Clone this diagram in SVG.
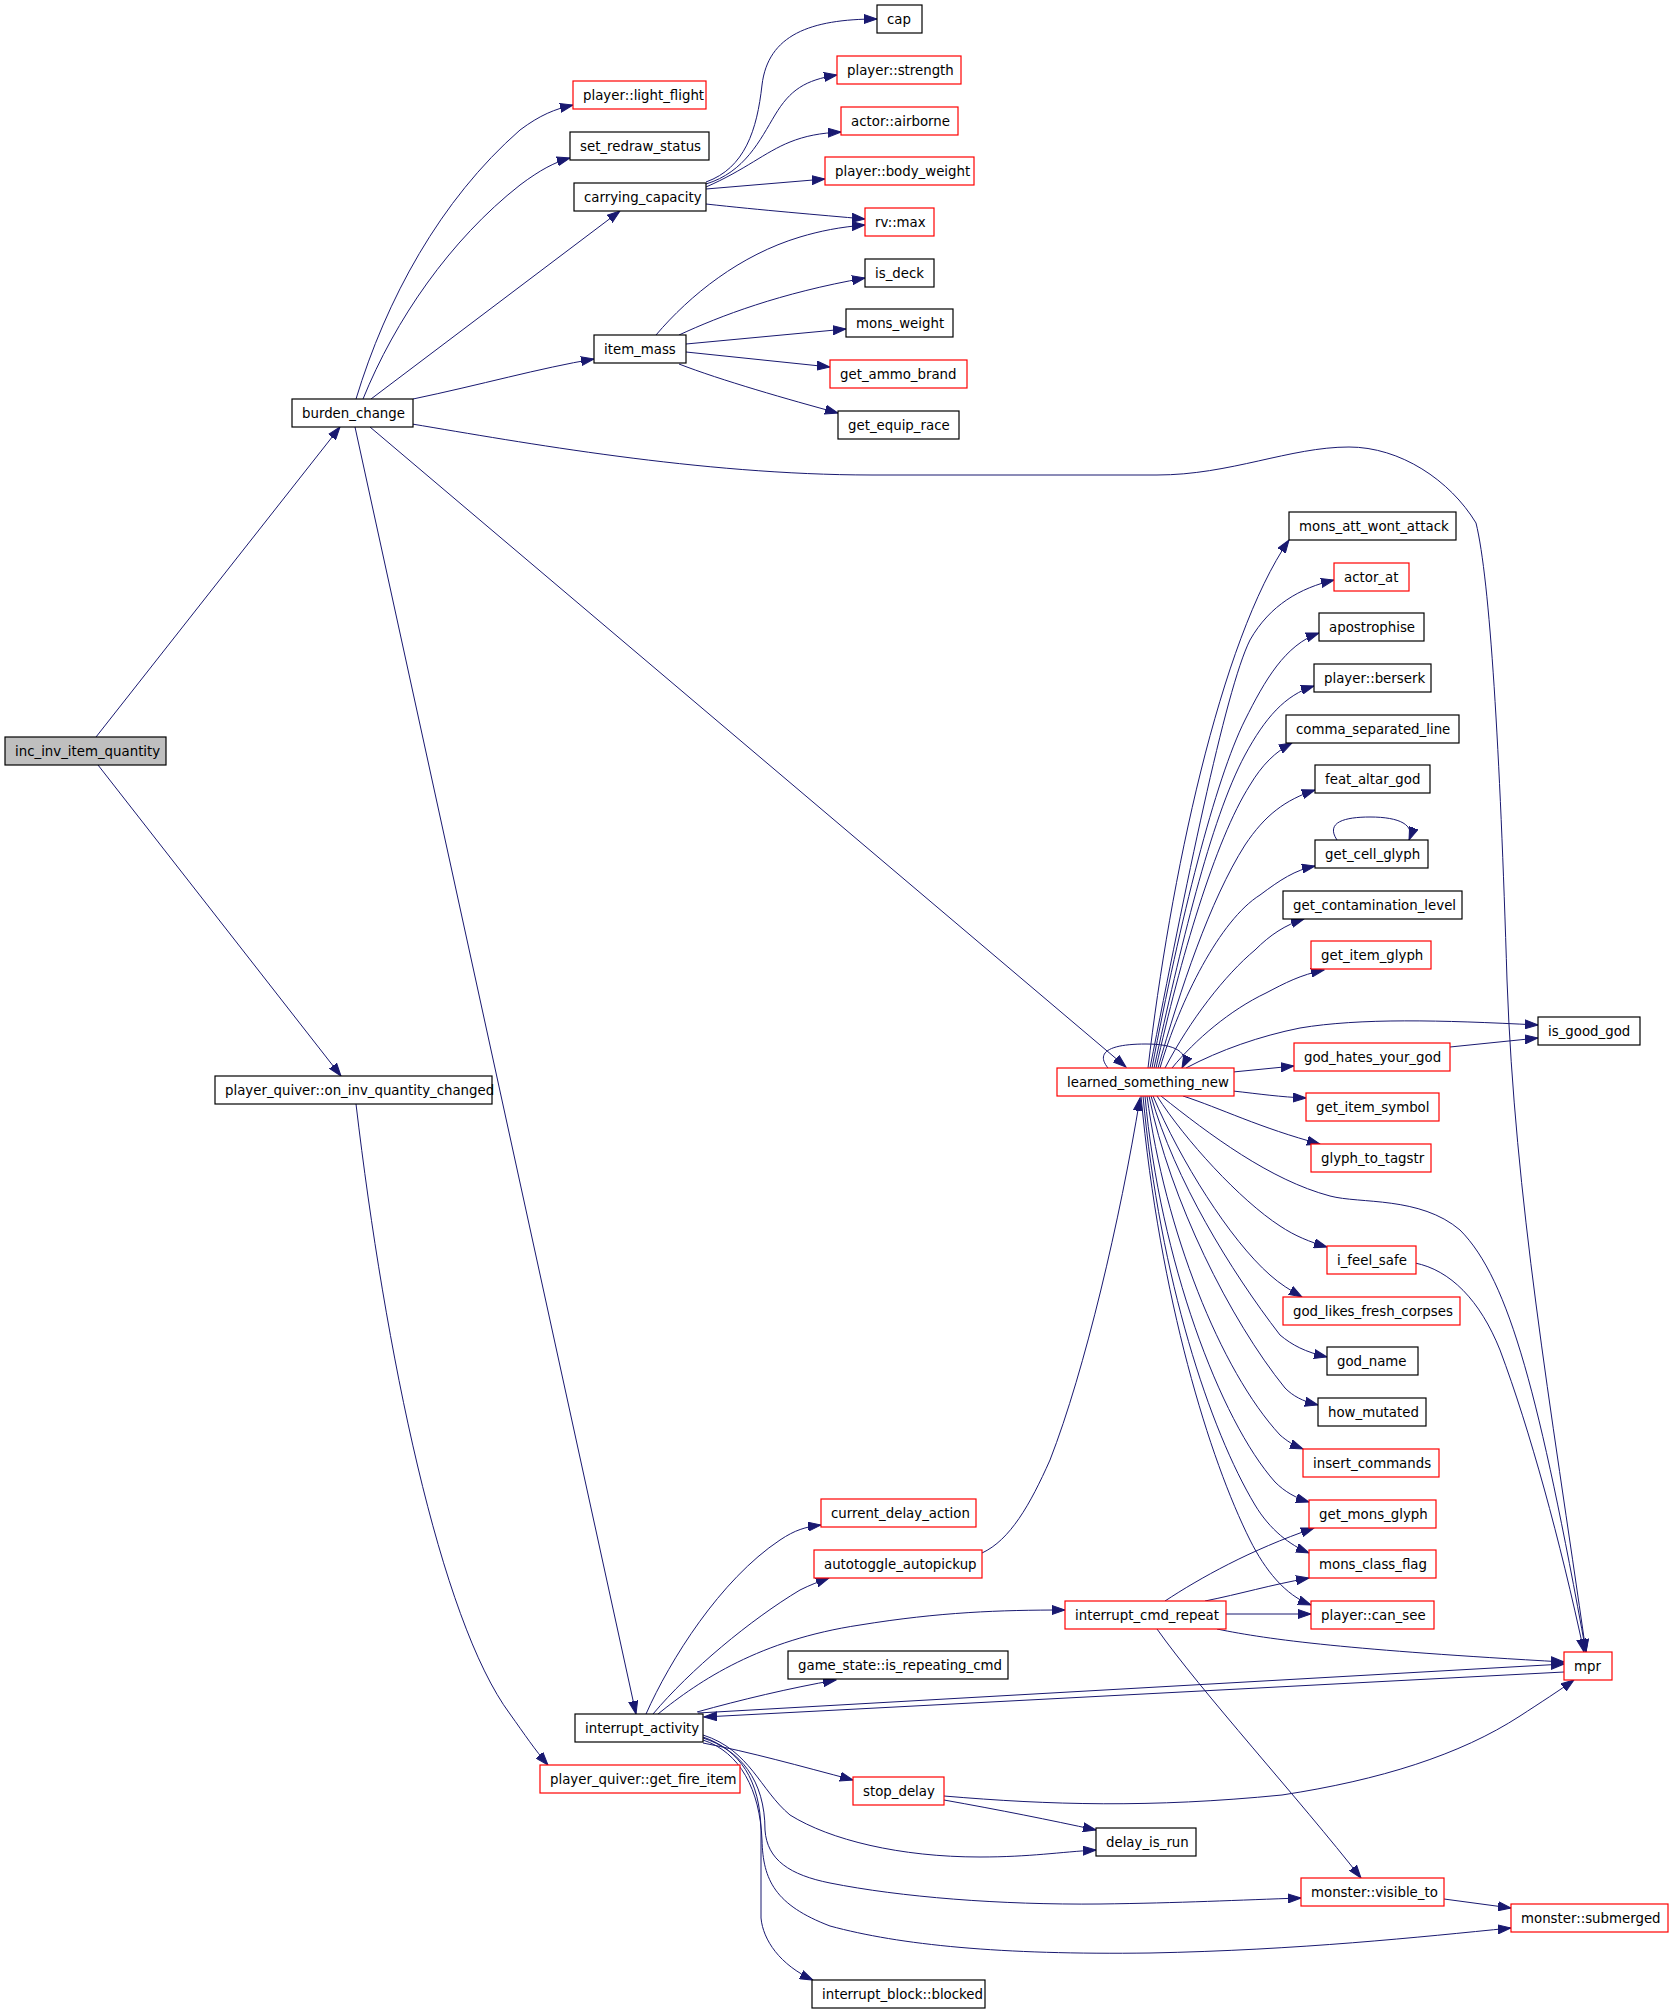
<svg xmlns="http://www.w3.org/2000/svg" width="1669" height="2011" viewBox="0 0 1669 2011">
<style>
.e{fill:none;stroke:#191970;stroke-width:1;marker-end:url(#a)}
.n rect{fill:#ffffff;stroke:#000000;stroke-width:1.2}
.r rect{stroke:#ff0000}
.g rect{fill:#bfbfbf}
text{font-family:"DejaVu Sans","Liberation Sans",sans-serif;font-size:13.33px;fill:#000000}
</style>
<defs>
<marker id="a" markerUnits="userSpaceOnUse" markerWidth="14" markerHeight="10" refX="13" refY="5" orient="auto">
<path d="M0,0.5 L13,5 L0,9.5 Z" fill="#191970" stroke="#191970" stroke-width="1"/>
</marker>
</defs>
<rect x="0" y="0" width="1669" height="2011" fill="#ffffff"/>
<g id="edges">
<path class="e" d="M96,737 L340,427"/>
<path class="e" d="M98,765 L341,1076"/>
<path class="e" d="M356,399 C386,300 440,200 520,130 C540,115 555,109 573,105"/>
<path class="e" d="M363,399 C395,320 450,240 520,185 C540,170 555,162 570,158"/>
<path class="e" d="M371,399 L620,211"/>
<path class="e" d="M413,399 C480,385 540,368 594,359"/>
<path class="e" d="M412,424 C520,442 700,475 872,475 L1157,475 C1230,475 1290,447 1349,447 C1400,447 1450,480 1476,523 C1490,580 1500,750 1507,980 C1515,1200 1550,1400 1586,1652"/>
<path class="e" d="M370,427 L1126,1067"/>
<path class="e" d="M355,427 L636,1714"/>
<path class="e" d="M356,1104 C385,1350 440,1620 510,1714 C525,1735 535,1750 548,1765"/>
<path class="e" d="M706,182 C745,168 757,130 762,85 C768,35 810,19 877,19"/>
<path class="e" d="M706,184 C745,172 760,140 775,115 C790,90 805,80 837,75"/>
<path class="e" d="M706,187 C745,170 765,152 790,142 C805,136 820,133 841,132"/>
<path class="e" d="M706,189 L825,179"/>
<path class="e" d="M706,204 C760,210 820,215 865,219"/>
<path class="e" d="M656,335 C690,295 740,255 800,237 C820,231 840,227 865,225"/>
<path class="e" d="M679,335 C720,316 780,293 865,278"/>
<path class="e" d="M686,344 L846,329"/>
<path class="e" d="M686,352 L830,367"/>
<path class="e" d="M679,364 C720,380 790,400 838,413"/>
<path class="e" d="M1148,1068 C1170,880 1220,640 1289,540"/>
<path class="e" d="M1150,1068 C1185,890 1225,690 1250,640 C1270,605 1300,588 1334,580"/>
<path class="e" d="M1152,1068 C1180,920 1215,780 1245,720 C1265,680 1285,645 1319,633"/>
<path class="e" d="M1154,1068 C1180,950 1210,820 1245,755 C1265,718 1285,695 1314,686"/>
<path class="e" d="M1156,1068 C1180,960 1215,840 1250,785 C1262,765 1275,752 1292,743"/>
<path class="e" d="M1158,1068 C1180,990 1210,900 1245,845 C1265,815 1285,800 1315,790"/>
<path class="e" d="M1160,1068 C1180,1000 1220,920 1260,895 C1280,880 1295,870 1315,866"/>
<path class="e" d="M1165,1068 C1190,1020 1225,975 1255,950 C1270,935 1285,925 1304,919"/>
<path class="e" d="M1172,1068 C1195,1040 1230,1010 1266,993 C1285,983 1300,975 1324,970"/>
<path class="e" d="M1108,1068 C1095,1052 1110,1044 1146,1044 C1175,1044 1190,1052 1182,1068"/>
<path class="e" d="M1186,1068 C1220,1050 1260,1036 1300,1028 C1360,1018 1440,1020 1538,1025"/>
<path class="e" d="M1450,1047 L1538,1038"/>
<path class="e" d="M1233,1072 L1294,1066"/>
<path class="e" d="M1233,1091 C1260,1094 1280,1097 1306,1098"/>
<path class="e" d="M1183,1096 C1220,1108 1260,1128 1320,1144"/>
<path class="e" d="M1161,1096 C1210,1135 1270,1180 1330,1196 C1360,1204 1420,1196 1460,1230 C1510,1280 1540,1400 1586,1652"/>
<path class="e" d="M1157,1096 C1185,1140 1240,1200 1280,1226 C1295,1236 1310,1242 1327,1247"/>
<path class="e" d="M1153,1096 C1180,1160 1230,1240 1270,1275 C1280,1284 1290,1290 1302,1297"/>
<path class="e" d="M1151,1096 C1175,1180 1230,1270 1280,1335 C1292,1345 1305,1352 1327,1357"/>
<path class="e" d="M1149,1096 C1170,1200 1230,1320 1285,1388 C1293,1396 1302,1401 1318,1405"/>
<path class="e" d="M1147,1096 C1165,1230 1220,1370 1280,1435 C1287,1441 1293,1445 1303,1449"/>
<path class="e" d="M1145,1096 C1160,1260 1220,1420 1275,1482 C1285,1492 1296,1498 1309,1502"/>
<path class="e" d="M1143,1096 C1160,1280 1210,1430 1255,1505 C1270,1530 1290,1545 1309,1553"/>
<path class="e" d="M1141,1096 C1160,1300 1210,1460 1250,1540 C1265,1570 1285,1595 1311,1605"/>
<path class="e" d="M1415,1263 C1450,1270 1480,1300 1500,1350 C1530,1430 1560,1540 1584,1652"/>
<path class="e" d="M982,1553 C1010,1540 1030,1505 1050,1460 C1085,1370 1120,1220 1140,1098"/>
<path class="e" d="M646,1714 C670,1660 720,1580 780,1540 C795,1530 805,1527 821,1525"/>
<path class="e" d="M653,1714 C690,1670 750,1620 800,1590 C810,1585 818,1582 829,1578"/>
<path class="e" d="M658,1714 C700,1680 760,1640 860,1625 C940,1612 1000,1610 1065,1610"/>
<path class="e" d="M697,1712 C740,1700 790,1688 836,1680"/>
<path class="e" d="M698,1713 L1564,1664"/>
<path class="e" d="M1564,1672 L704,1717"/>
<path class="e" d="M703,1743 C750,1752 800,1766 853,1780"/>
<path class="e" d="M703,1735 C750,1750 760,1790 790,1815 C830,1840 900,1857 980,1857 C1030,1857 1060,1852 1096,1850"/>
<path class="e" d="M703,1738 C740,1750 765,1780 765,1830 C767,1860 790,1875 830,1883 C900,1897 1000,1905 1100,1904 C1180,1903 1240,1900 1301,1898"/>
<path class="e" d="M703,1740 C740,1752 760,1790 762,1840 C763,1880 775,1905 830,1926 C900,1945 1000,1955 1150,1953 C1300,1950 1420,1937 1511,1928"/>
<path class="e" d="M703,1737 C740,1750 760,1780 761,1830 L761,1918 C763,1940 780,1965 813,1980"/>
<path class="e" d="M944,1800 C1000,1810 1050,1820 1096,1830"/>
<path class="e" d="M944,1796 C1050,1805 1150,1808 1282,1795 C1380,1780 1460,1755 1520,1716 C1540,1703 1560,1690 1574,1680"/>
<path class="e" d="M1165,1601 C1200,1578 1250,1550 1314,1528"/>
<path class="e" d="M1205,1601 C1240,1594 1270,1585 1309,1578"/>
<path class="e" d="M1226,1614 L1311,1614"/>
<path class="e" d="M1217,1629 C1270,1640 1350,1650 1564,1662"/>
<path class="e" d="M1157,1629 C1200,1690 1300,1800 1361,1878"/>
<path class="e" d="M1444,1899 L1511,1908"/>
<path class="e" d="M1337,840 C1325,822 1345,817 1370,817 C1400,817 1415,825 1409,840"/>
</g>
<g id="n_inc" class="n g"><rect x="5" y="737" width="161" height="28"/><text x="15" y="756">inc_inv_item_quantity</text></g>
<g id="n_burden" class="n"><rect x="292" y="399" width="121" height="28"/><text x="302" y="418">burden_change</text></g>
<g id="n_oninv" class="n"><rect x="215" y="1076" width="277" height="28"/><text x="225" y="1095">player_quiver::on_inv_quantity_changed</text></g>
<g id="n_light" class="n r"><rect x="573" y="81" width="133" height="28"/><text x="583" y="100">player::light_flight</text></g>
<g id="n_redraw" class="n"><rect x="570" y="132" width="139" height="28"/><text x="580" y="151">set_redraw_status</text></g>
<g id="n_carry" class="n"><rect x="574" y="183" width="132" height="28"/><text x="584" y="202">carrying_capacity</text></g>
<g id="n_itemmass" class="n"><rect x="594" y="335" width="92" height="28"/><text x="604" y="354">item_mass</text></g>
<g id="n_cap" class="n"><rect x="877" y="5" width="45" height="28"/><text x="887" y="24">cap</text></g>
<g id="n_strength" class="n r"><rect x="837" y="56" width="124" height="28"/><text x="847" y="75">player::strength</text></g>
<g id="n_airborne" class="n r"><rect x="841" y="107" width="117" height="28"/><text x="851" y="126">actor::airborne</text></g>
<g id="n_bodyweight" class="n r"><rect x="825" y="157" width="149" height="28"/><text x="835" y="176">player::body_weight</text></g>
<g id="n_rvmax" class="n r"><rect x="865" y="208" width="69" height="28"/><text x="875" y="227">rv::max</text></g>
<g id="n_isdeck" class="n"><rect x="865" y="259" width="69" height="28"/><text x="875" y="278">is_deck</text></g>
<g id="n_monsweight" class="n"><rect x="846" y="309" width="107" height="28"/><text x="856" y="328">mons_weight</text></g>
<g id="n_ammo" class="n r"><rect x="830" y="360" width="137" height="28"/><text x="840" y="379">get_ammo_brand</text></g>
<g id="n_equiprace" class="n"><rect x="838" y="411" width="121" height="28"/><text x="848" y="430">get_equip_race</text></g>
<g id="n_monsatt" class="n"><rect x="1289" y="512" width="167" height="28"/><text x="1299" y="531">mons_att_wont_attack</text></g>
<g id="n_actorat" class="n r"><rect x="1334" y="563" width="75" height="28"/><text x="1344" y="582">actor_at</text></g>
<g id="n_apos" class="n"><rect x="1319" y="613" width="105" height="28"/><text x="1329" y="632">apostrophise</text></g>
<g id="n_berserk" class="n"><rect x="1314" y="664" width="117" height="28"/><text x="1324" y="683">player::berserk</text></g>
<g id="n_comma" class="n"><rect x="1286" y="715" width="173" height="28"/><text x="1296" y="734">comma_separated_line</text></g>
<g id="n_feat" class="n"><rect x="1315" y="765" width="115" height="28"/><text x="1325" y="784">feat_altar_god</text></g>
<g id="n_cellglyph" class="n"><rect x="1315" y="840" width="113" height="28"/><text x="1325" y="859">get_cell_glyph</text></g>
<g id="n_contam" class="n"><rect x="1283" y="891" width="179" height="28"/><text x="1293" y="910">get_contamination_level</text></g>
<g id="n_itemglyph" class="n r"><rect x="1311" y="941" width="120" height="28"/><text x="1321" y="960">get_item_glyph</text></g>
<g id="n_isgoodgod" class="n"><rect x="1538" y="1017" width="102" height="28"/><text x="1548" y="1036">is_good_god</text></g>
<g id="n_godhates" class="n r"><rect x="1294" y="1043" width="156" height="28"/><text x="1304" y="1062">god_hates_your_god</text></g>
<g id="n_lsn" class="n r"><rect x="1057" y="1068" width="177" height="28"/><text x="1067" y="1087">learned_something_new</text></g>
<g id="n_itemsymbol" class="n r"><rect x="1306" y="1093" width="133" height="28"/><text x="1316" y="1112">get_item_symbol</text></g>
<g id="n_glyphtag" class="n r"><rect x="1311" y="1144" width="120" height="28"/><text x="1321" y="1163">glyph_to_tagstr</text></g>
<g id="n_feelsafe" class="n r"><rect x="1327" y="1246" width="89" height="28"/><text x="1337" y="1265">i_feel_safe</text></g>
<g id="n_godlikes" class="n r"><rect x="1283" y="1297" width="177" height="28"/><text x="1293" y="1316">god_likes_fresh_corpses</text></g>
<g id="n_godname" class="n"><rect x="1327" y="1347" width="91" height="28"/><text x="1337" y="1366">god_name</text></g>
<g id="n_howmut" class="n"><rect x="1318" y="1398" width="108" height="28"/><text x="1328" y="1417">how_mutated</text></g>
<g id="n_insert" class="n r"><rect x="1303" y="1449" width="136" height="28"/><text x="1313" y="1468">insert_commands</text></g>
<g id="n_monsglyph" class="n r"><rect x="1309" y="1500" width="127" height="28"/><text x="1319" y="1519">get_mons_glyph</text></g>
<g id="n_classflag" class="n r"><rect x="1309" y="1550" width="127" height="28"/><text x="1319" y="1569">mons_class_flag</text></g>
<g id="n_cmdrepeat" class="n r"><rect x="1065" y="1601" width="161" height="28"/><text x="1075" y="1620">interrupt_cmd_repeat</text></g>
<g id="n_cansee" class="n r"><rect x="1311" y="1601" width="123" height="28"/><text x="1321" y="1620">player::can_see</text></g>
<g id="n_mpr" class="n r"><rect x="1564" y="1652" width="48" height="28"/><text x="1574" y="1671">mpr</text></g>
<g id="n_curdelay" class="n r"><rect x="821" y="1499" width="155" height="28"/><text x="831" y="1518">current_delay_action</text></g>
<g id="n_autotoggle" class="n r"><rect x="814" y="1550" width="168" height="28"/><text x="824" y="1569">autotoggle_autopickup</text></g>
<g id="n_isrepeating" class="n"><rect x="788" y="1651" width="220" height="28"/><text x="798" y="1670">game_state::is_repeating_cmd</text></g>
<g id="n_ia" class="n"><rect x="575" y="1714" width="128" height="28"/><text x="585" y="1733">interrupt_activity</text></g>
<g id="n_fireitem" class="n r"><rect x="540" y="1765" width="200" height="28"/><text x="550" y="1784">player_quiver::get_fire_item</text></g>
<g id="n_stopdelay" class="n r"><rect x="853" y="1777" width="91" height="28"/><text x="863" y="1796">stop_delay</text></g>
<g id="n_delayisrun" class="n"><rect x="1096" y="1828" width="100" height="28"/><text x="1106" y="1847">delay_is_run</text></g>
<g id="n_visible" class="n r"><rect x="1301" y="1878" width="143" height="28"/><text x="1311" y="1897">monster::visible_to</text></g>
<g id="n_submerged" class="n r"><rect x="1511" y="1904" width="157" height="28"/><text x="1521" y="1923">monster::submerged</text></g>
<g id="n_blocked" class="n"><rect x="812" y="1980" width="173" height="28"/><text x="822" y="1999">interrupt_block::blocked</text></g>
</svg>
